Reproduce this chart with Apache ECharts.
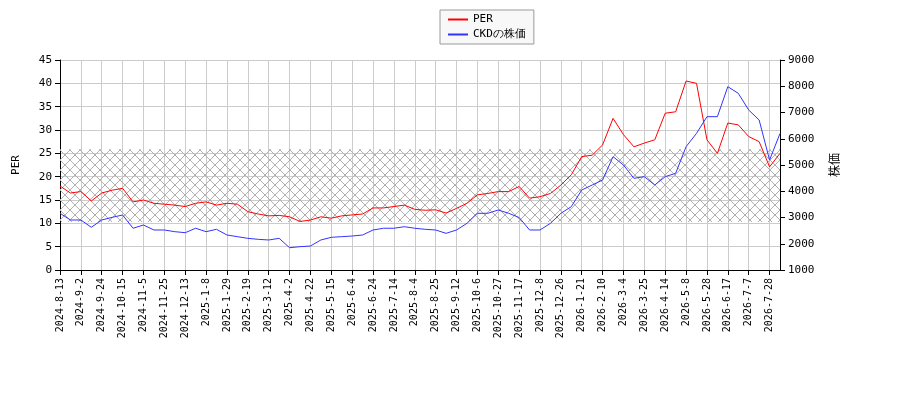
<!DOCTYPE html>
<html><head><meta charset="utf-8">
<script src="https://cdn.jsdelivr.net/npm/echarts@6/dist/echarts.min.js"></script>
<style>html,body{margin:0;padding:0;background:#fff}#c{width:900px;height:400px}</style>
</head><body><div id="c"></div>
<script>
const tickDates = ['2024-8-13','2024-9-2','2024-9-24','2024-10-15','2024-11-5','2024-11-25','2024-12-13','2025-1-8','2025-1-29','2025-2-19','2025-3-12','2025-4-2','2025-4-22','2025-5-15','2025-6-4','2025-6-24','2025-7-14','2025-8-4','2025-8-25','2025-9-12','2025-10-6','2025-10-27','2025-11-17','2025-12-8','2025-12-26','2026-1-21','2026-2-10','2026-3-4','2026-3-25','2026-4-14','2026-5-8','2026-5-28','2026-6-17','2026-7-7','2026-7-28'];
const perValues = [18,16.5,16.8,14.8,16.5,17.1,17.5,14.6,15.0,14.3,14.1,13.9,13.6,14.3,14.6,13.9,14.3,14.1,12.5,12.0,11.6,11.7,11.4,10.4,10.7,11.4,11.1,11.6,11.8,12.0,13.3,13.3,13.6,13.9,13.0,12.8,12.9,12.2,13.2,14.3,16.1,16.4,16.8,16.8,17.9,15.4,15.7,16.4,18.2,20.4,24.3,24.6,26.8,32.5,29.0,26.4,27.2,27.9,33.6,33.9,40.5,40.0,27.9,25.0,31.5,31.1,28.6,27.5,22.1,25.0];
const priceValues = [3160,2905,2905,2627,2905,3007,3095,2590,2714,2524,2524,2460,2421,2590,2460,2550,2333,2270,2206,2168,2143,2206,1850,1888,1914,2143,2245,2270,2295,2333,2524,2590,2590,2650,2590,2550,2524,2397,2524,2778,3160,3160,3286,3160,3000,2524,2524,2778,3160,3413,4048,4238,4429,5317,5000,4492,4556,4238,4556,4683,5698,6206,6841,6841,7984,7730,7095,6714,5190,6200];
const bandLow = 10.3, bandHigh = 25.9;

function fmt(d){return d.getFullYear()+'-'+(d.getMonth()+1)+'-'+d.getDate();}
function parse(s){const p=s.split('-').map(Number);return new Date(p[0],p[1]-1,p[2]);}
const cats=[];
for(let i=0;i<tickDates.length;i++){
  cats.push(tickDates[i]);
  const a=parse(tickDates[i]);
  const b=i<tickDates.length-1?parse(tickDates[i+1]):new Date(a.getTime()+20*864e5);
  cats.push(fmt(new Date((a.getTime()+b.getTime())/2)));
}
cats.length=perValues.length;

const tile=document.createElement('canvas');tile.width=10;tile.height=10;
const g=tile.getContext('2d');g.strokeStyle='#b0b0b0';g.lineWidth=1;
g.beginPath();g.moveTo(0,0);g.lineTo(10,10);g.moveTo(10,0);g.lineTo(0,10);g.stroke();

const F='DejaVu Sans Mono';
const chart=echarts.init(document.getElementById('c'));
chart.setOption({
  animation:false,
  textStyle:{fontFamily:F},
  legend:{top:10,left:440,orient:'vertical',itemGap:4,padding:[4,8],borderColor:'#999',borderWidth:1,backgroundColor:'#f8f8f8',
    itemWidth:20,itemHeight:2,icon:'rect',textStyle:{fontFamily:F,fontSize:11,color:'#000'},data:['PER','CKDの株価']},
  grid:{left:60,right:120,top:60,bottom:130},
  xAxis:{type:'category',data:cats,boundaryGap:false,
    axisLine:{lineStyle:{color:'#000'}},
    axisTick:{interval:1,lineStyle:{color:'#000'}},
    axisLabel:{interval:1,rotate:90,fontFamily:F,fontSize:10,color:'#000'},
    splitLine:{show:true,interval:1,lineStyle:{color:'#ccc'}}},
  yAxis:[
    {type:'value',min:0,max:45,interval:5,name:'PER',nameLocation:'middle',nameGap:38,nameTextStyle:{fontFamily:F,fontSize:11,color:'#000'},
     axisLine:{show:true,lineStyle:{color:'#000'}},axisTick:{show:true},axisLabel:{fontFamily:F,fontSize:11,color:'#000'},
     splitLine:{lineStyle:{color:'#ccc'}}},
    {type:'value',min:1000,max:9000,interval:1000,name:'株価',nameLocation:'middle',nameGap:48,nameTextStyle:{fontFamily:'Noto Sans CJK JP',fontSize:12,color:'#000'},
     axisLine:{show:true,lineStyle:{color:'#000'}},axisTick:{show:true},axisLabel:{fontFamily:F,fontSize:11,color:'#000',formatter:v=>String(v)},
     splitLine:{show:false}}
  ],
  series:[
    {name:'PER',type:'line',data:perValues,yAxisIndex:0,showSymbol:false,color:'#ff0000',lineStyle:{width:1,color:'#ff0000'},
     markArea:{silent:true,itemStyle:{color:{image:tile,repeat:'repeat'}},data:[[{yAxis:bandLow},{yAxis:bandHigh}]]},z:3},
    {name:'CKDの株価',type:'line',data:priceValues,yAxisIndex:1,showSymbol:false,color:'#3333ff',lineStyle:{width:1,color:'#3333ff'},z:2}
  ]
});
</script></body></html>
